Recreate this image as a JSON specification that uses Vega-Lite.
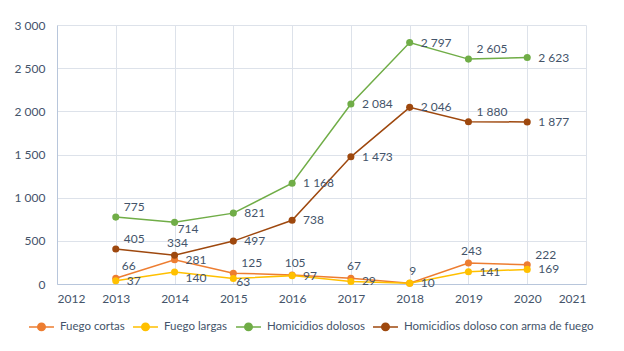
{
  "$schema": "https://vega.github.io/schema/vega-lite/v6.json",
  "width": 529,
  "height": 259,
  "autosize": "none",
  "padding": {"left": 57, "top": 25, "right": 38, "bottom": 67},
  "background": "white",
  "config": {
    "locale": {"number": {"decimal": ",", "thousands": "\u00a0", "grouping": [3], "currency": ["$", ""]}},
    "font": "Lato",
    "view": {"stroke": null},
    "axis": {"labelFont": "Lato", "labelFontSize": 12, "labelColor": "#44546A", "ticks": false, "gridColor": "#DDE2EA", "gridWidth": 1, "domainColor": "#B8C6DB", "title": null}
  },
  "data": {
    "values": [
      {"s": "Fuego cortas", "year": 2013, "v": 66},
      {"s": "Fuego cortas", "year": 2014, "v": 281},
      {"s": "Fuego cortas", "year": 2015, "v": 125},
      {"s": "Fuego cortas", "year": 2016, "v": 105},
      {"s": "Fuego cortas", "year": 2017, "v": 67},
      {"s": "Fuego cortas", "year": 2018, "v": 9},
      {"s": "Fuego cortas", "year": 2019, "v": 243},
      {"s": "Fuego cortas", "year": 2020, "v": 222},
      {"s": "Fuego largas", "year": 2013, "v": 37},
      {"s": "Fuego largas", "year": 2014, "v": 140},
      {"s": "Fuego largas", "year": 2015, "v": 63},
      {"s": "Fuego largas", "year": 2016, "v": 97},
      {"s": "Fuego largas", "year": 2017, "v": 29},
      {"s": "Fuego largas", "year": 2018, "v": 10},
      {"s": "Fuego largas", "year": 2019, "v": 141},
      {"s": "Fuego largas", "year": 2020, "v": 169},
      {"s": "Homicidios dolosos", "year": 2013, "v": 775},
      {"s": "Homicidios dolosos", "year": 2014, "v": 714},
      {"s": "Homicidios dolosos", "year": 2015, "v": 821},
      {"s": "Homicidios dolosos", "year": 2016, "v": 1168},
      {"s": "Homicidios dolosos", "year": 2017, "v": 2084},
      {"s": "Homicidios dolosos", "year": 2018, "v": 2797},
      {"s": "Homicidios dolosos", "year": 2019, "v": 2605},
      {"s": "Homicidios dolosos", "year": 2020, "v": 2623},
      {"s": "Homicidios doloso con arma de fuego", "year": 2013, "v": 405},
      {"s": "Homicidios doloso con arma de fuego", "year": 2014, "v": 334},
      {"s": "Homicidios doloso con arma de fuego", "year": 2015, "v": 497},
      {"s": "Homicidios doloso con arma de fuego", "year": 2016, "v": 738},
      {"s": "Homicidios doloso con arma de fuego", "year": 2017, "v": 1473},
      {"s": "Homicidios doloso con arma de fuego", "year": 2018, "v": 2046},
      {"s": "Homicidios doloso con arma de fuego", "year": 2019, "v": 1880},
      {"s": "Homicidios doloso con arma de fuego", "year": 2020, "v": 1877}
    ]
  },
  "encoding": {
    "x": {"field": "year", "type": "quantitative", "scale": {"domain": [2012, 2021], "nice": false, "zero": false},
      "axis": {"values": [2012, 2013, 2014, 2015, 2016, 2017, 2018, 2019, 2020, 2021], "format": "d", "labelPadding": 9, "grid": true}},
    "y": {"field": "v", "type": "quantitative", "scale": {"domain": [0, 3000], "nice": false},
      "axis": {"values": [0, 500, 1000, 1500, 2000, 2500, 3000], "format": ",d", "labelPadding": 12, "grid": true}}
  },
  "layer": [
    {
      "mark": {"type": "line", "strokeWidth": 1.5},
      "encoding": {
        "color": {"field": "s", "type": "nominal",
          "scale": {"domain": ["Fuego cortas", "Fuego largas", "Homicidios dolosos", "Homicidios doloso con arma de fuego"], "range": ["#ED7D31", "#FFC000", "#70AD47", "#9E480E"]},
          "legend": {"title": null, "orient": "none", "legendX": -25, "legendY": 292, "direction": "horizontal", "columns": 4,
            "symbolType": "M-1.5,0L1.5,0M0.45,0A0.45,0.45 0 1,1 -0.45,0A0.45,0.45 0 1,1 0.45,0",
            "symbolSize": 277, "symbolStrokeWidth": 1.5, "labelFont": "Lato", "labelFontSize": 11.5, "labelColor": "#44546A",
            "labelOffset": 9, "columnPadding": 5, "labelLimit": 400,
            "encode": {"symbols": {"update": {"fill": {"scale": "color", "field": "value"}}}}}
        }
      }
    },
    {
      "mark": {"type": "point", "filled": true, "size": 50, "opacity": 1},
      "encoding": {"color": {"field": "s", "type": "nominal", "legend": null}}
    },
    {
      "transform": [{"filter": "!((datum.s=='Homicidios dolosos' && (datum.year==2013||datum.year==2019||datum.year==2014)) || (datum.s=='Homicidios doloso con arma de fuego' && (datum.year==2013||datum.year==2019||datum.year==2014)) || (datum.s=='Fuego cortas' && datum.year!=2014) || (datum.s=='Fuego largas' && (datum.year==2014||datum.year==2015)))"}],
      "mark": {"type": "text", "align": "left", "baseline": "middle", "dx": 11, "font": "Lato", "fontSize": 12, "color": "#44546A"},
      "encoding": {"text": {"field": "v", "type": "quantitative", "format": ",d"}}
    },
    {
      "transform": [{"filter": "(datum.s=='Homicidios dolosos' && (datum.year==2013||datum.year==2019)) || (datum.s=='Homicidios doloso con arma de fuego' && (datum.year==2013||datum.year==2019)) || (datum.s=='Fuego cortas' && (datum.year==2015||datum.year==2020))"}],
      "mark": {"type": "text", "align": "left", "baseline": "middle", "dx": 8, "dy": -10, "font": "Lato", "fontSize": 12, "color": "#44546A"},
      "encoding": {"text": {"field": "v", "type": "quantitative", "format": ",d"}}
    },
    {
      "transform": [{"filter": "datum.s=='Fuego cortas' && datum.year==2013"}],
      "mark": {"type": "text", "align": "left", "baseline": "middle", "dx": 6, "dy": -12, "font": "Lato", "fontSize": 12, "color": "#44546A"},
      "encoding": {"text": {"field": "v", "type": "quantitative", "format": ",d"}}
    },
    {
      "transform": [{"filter": "(datum.s=='Fuego cortas' && datum.year>=2016 && datum.year<=2019) || (datum.s=='Homicidios doloso con arma de fuego' && datum.year==2014)"}],
      "mark": {"type": "text", "align": "center", "baseline": "middle", "dx": 3, "dy": -12, "font": "Lato", "fontSize": 12, "color": "#44546A"},
      "encoding": {"text": {"field": "v", "type": "quantitative", "format": ",d"}}
    },
    {
      "transform": [{"filter": "datum.s=='Homicidios dolosos' && datum.year==2014"}],
      "mark": {"type": "text", "align": "left", "baseline": "middle", "dx": 3, "dy": 7, "font": "Lato", "fontSize": 12, "color": "#44546A"},
      "encoding": {"text": {"field": "v", "type": "quantitative", "format": ",d"}}
    },
    {
      "transform": [{"filter": "datum.s=='Fuego largas' && datum.year==2014"}],
      "mark": {"type": "text", "align": "left", "baseline": "middle", "dx": 11, "dy": 6, "font": "Lato", "fontSize": 12, "color": "#44546A"},
      "encoding": {"text": {"field": "v", "type": "quantitative", "format": ",d"}}
    },
    {
      "transform": [{"filter": "datum.s=='Fuego largas' && datum.year==2015"}],
      "mark": {"type": "text", "align": "left", "baseline": "middle", "dx": 3, "dy": 3, "font": "Lato", "fontSize": 12, "color": "#44546A"},
      "encoding": {"text": {"field": "v", "type": "quantitative", "format": ",d"}}
    }
  ]
}
